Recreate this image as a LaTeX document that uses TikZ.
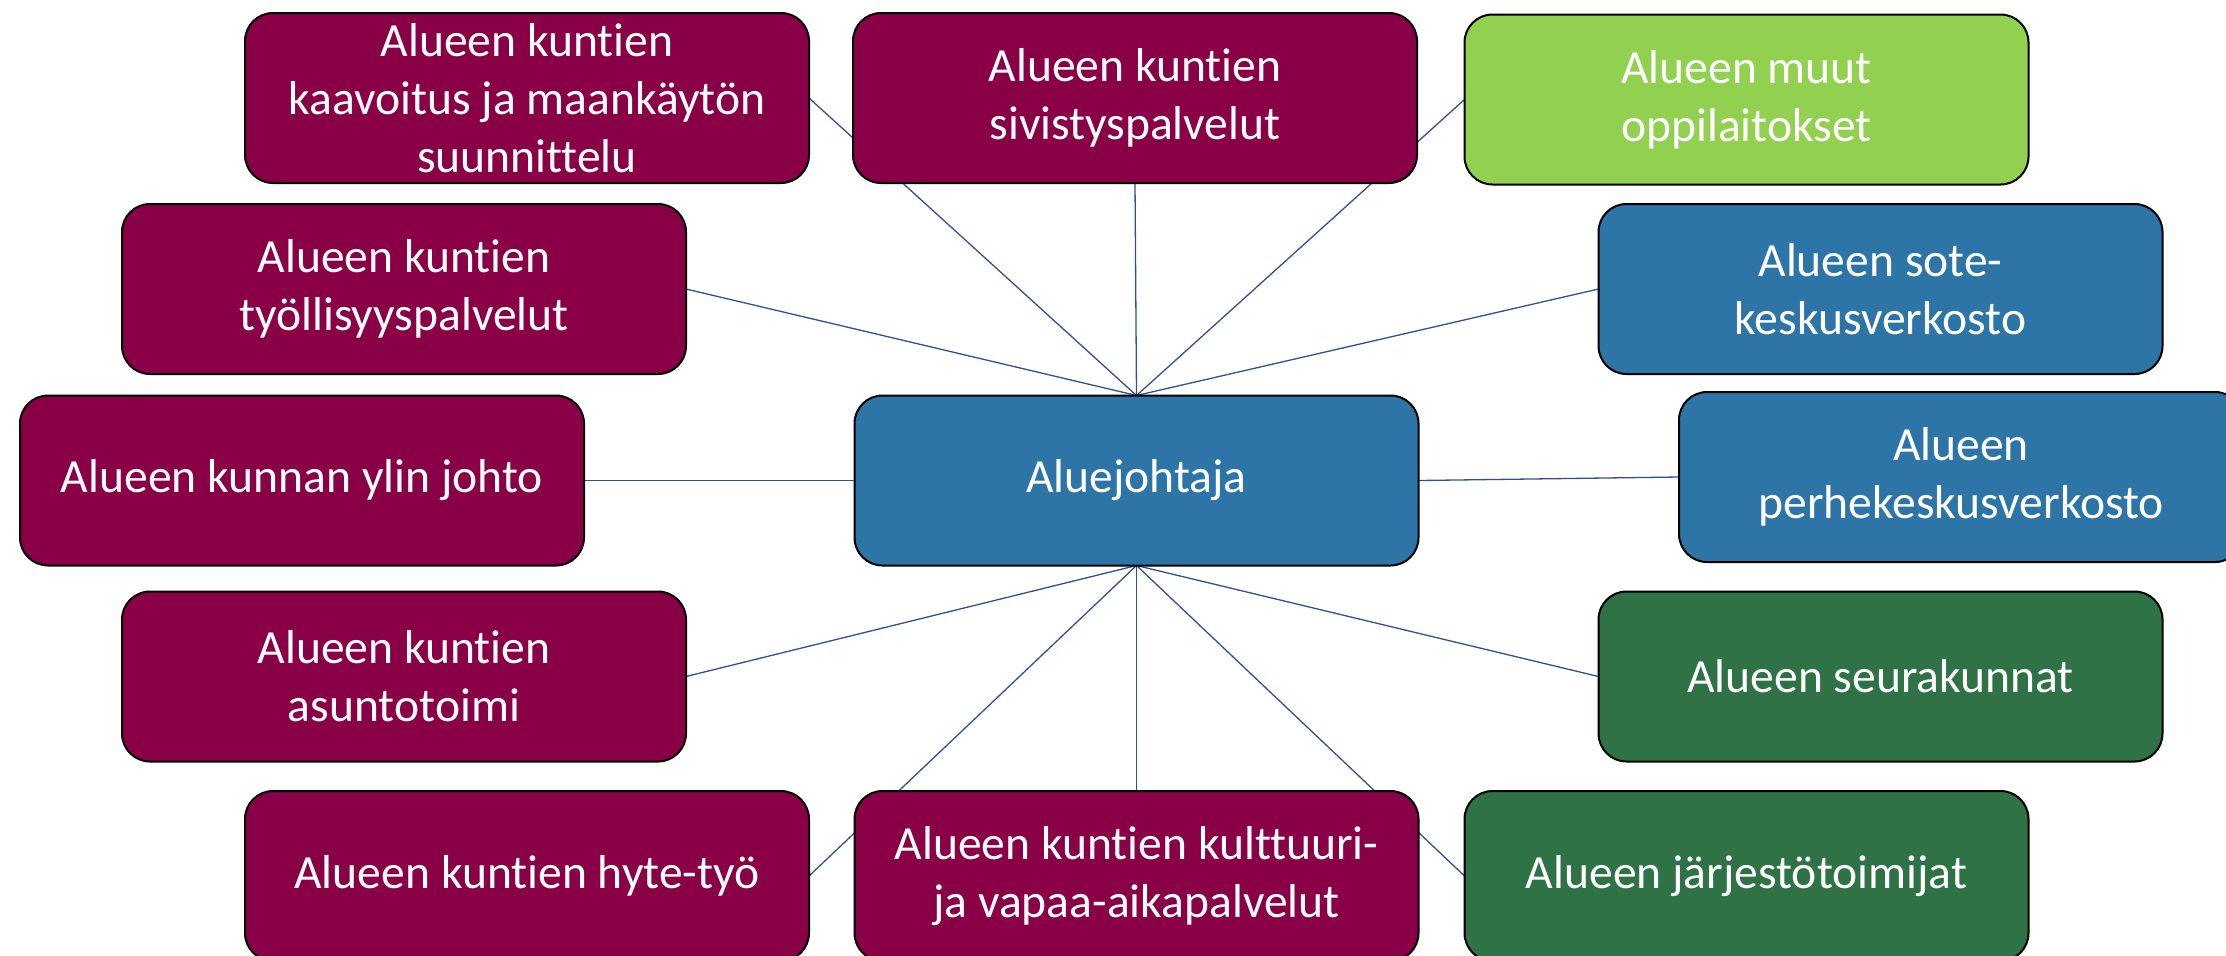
\documentclass[tikz,border=0pt]{standalone}
\usepackage{fontspec}
\setmainfont{Carlito}[Ligatures=NoCommon]
\usetikzlibrary{backgrounds}
\definecolor{maroon}{HTML}{8A0046}
\definecolor{bluebox}{HTML}{2E75A7}
\definecolor{lgreen}{HTML}{92D050}
\definecolor{dgreen}{HTML}{2E7245}
\definecolor{linkc}{HTML}{2F4F98}
\tikzset{
  box/.style={draw=black, line width=1pt, rounded corners=14pt, text=white,
    minimum width=282pt, minimum height=85pt, inner sep=0pt, outer sep=0pt,
    align=center, font=\fontsize{23.8}{29}\selectfont},
  mbox/.style={box, fill=maroon},
  bbox/.style={box, fill=bluebox},
  lgbox/.style={box, fill=lgreen},
  dgbox/.style={box, fill=dgreen},
  link/.style={draw=linkc, line width=0.65pt}
}
\begin{document}
\begin{tikzpicture}[x=0.5pt,y=-0.5pt]
\useasboundingbox (0,0) rectangle (2226,955);
\clip (0,0) rectangle (2226,955);
\node[mbox] (kaav) at (527,98) {Alueen kuntien\\kaavoitus ja maankäytön\\suunnittelu};
\node[mbox] (siv) at (1135,98) {Alueen kuntien\\sivistyspalvelut};
\node[lgbox] (muut) at (1746.5,99.5) {Alueen muut\\oppilaitokset};
\node[mbox] (tyo) at (404,289) {Alueen kuntien\\työllisyyspalvelut};
\node[bbox] (sote) at (1880.5,289) {Alueen sote-\\keskusverkosto};
\node[mbox] (ylin) at (302,480.5) {Alueen kunnan ylin johto};
\node[bbox] (alue) at (1136.5,480.5) {Aluejohtaja};
\node[bbox] (perhe) at (1961,477) {Alueen\\perhekeskusverkosto};
\node[mbox] (asunto) at (404,676.5) {Alueen kuntien\\asuntotoimi};
\node[dgbox] (seura) at (1880.5,676.5) {Alueen seurakunnat};
\node[mbox] (hyte) at (527,876) {Alueen kuntien hyte-työ};
\node[mbox] (kult) at (1136.5,876) {Alueen kuntien kulttuuri-\\ja vapaa-aikapalvelut};
\node[dgbox] (jarj) at (1746.5,876) {Alueen järjestötoimijat};
\begin{scope}[on background layer]
\draw[link] (alue.north) -- (kaav.east);
\draw[link] (alue.north) -- (tyo.east);
\draw[link] (alue.north) -- (siv.south);
\draw[link] (alue.north) -- (muut.west);
\draw[link] (alue.north) -- (sote.west);
\draw[link] (alue.west) -- (ylin.east);
\draw[link] (alue.east) -- (perhe.west);
\draw[link] (alue.south) -- (asunto.east);
\draw[link] (alue.south) -- (hyte.east);
\draw[link] (alue.south) -- (kult.north);
\draw[link] (alue.south) -- (jarj.west);
\draw[link] (alue.south) -- (seura.west);
\end{scope}
\end{tikzpicture}
\end{document}
